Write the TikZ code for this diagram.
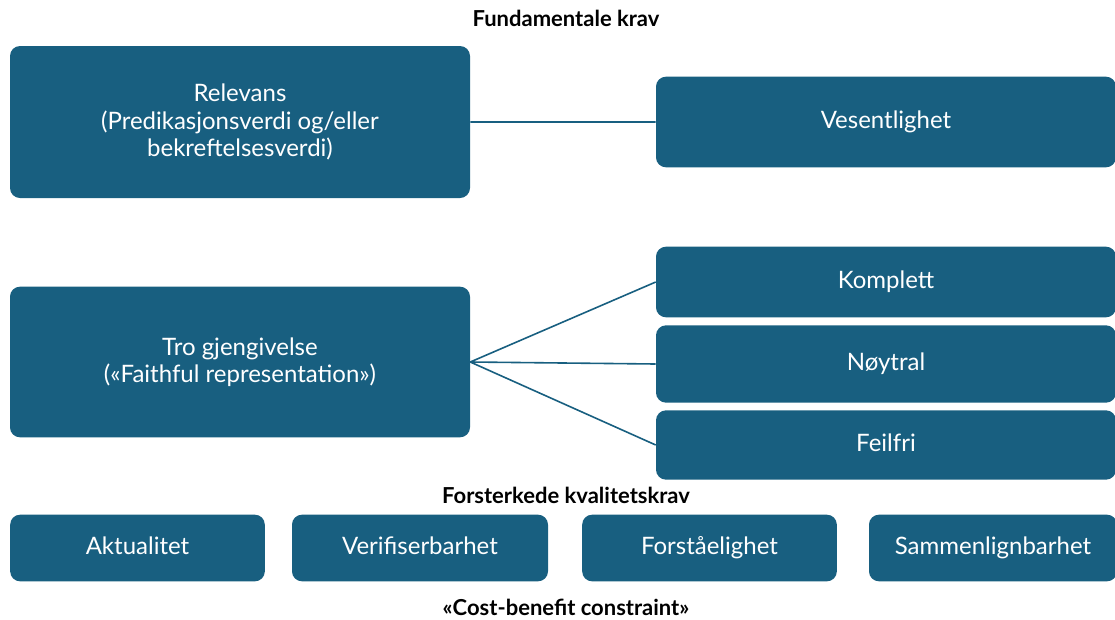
\documentclass[tikz,border=0pt]{standalone}
\usepackage{fontspec}
\setmainfont{Lato}
\usepackage{tikz}
\usetikzlibrary{positioning}

\definecolor{kravblue}{RGB}{24,95,128}

\begin{document}
\begin{tikzpicture}[x=0.75pt,y=-0.75pt,
        krav/.style={rectangle,rounded corners=7.5pt,fill=kravblue,text=white,
          font=\fontsize{18}{20.5}\selectfont,align=center,inner sep=0pt},
        kort/.style={krav,text height=13pt,text depth=4pt},
        heading/.style={font=\fontsize{16.5}{19}\selectfont\bfseries},
        link/.style={draw=kravblue,line width=1.2pt}]

  \useasboundingbox (0,0) rectangle (1115,619);

  \node[heading] (fund) at (566,18) {Fundamentale krav};

  \node[krav,minimum width=345pt,minimum height=114pt] (rel) at (240,122)
        {Relevans\\(Predikasjonsverdi og/eller\\bekreftelsesverdi)};
  \node[kort,minimum width=345pt,minimum height=68pt] (ves) at (886,122) {Vesentlighet};

  \node[krav,minimum width=345pt,minimum height=113pt] (tro) at (240,362)
        {Tro gjengivelse\\(«Faithful representation»)};
  \node[kort,minimum width=345pt,minimum height=53pt] (kom) at (886,282) {Komplett};
  \node[kort,minimum width=345pt,minimum height=58pt] (noy) at (886,364) {Nøytral};
  \node[kort,minimum width=345pt,minimum height=52pt] (feil) at (886,445) {Feilfri};

  \node[heading] (forst) at (566,495) {Forsterkede kvalitetskrav};

  \node[kort,minimum width=191pt,minimum height=50pt] (akt) at (137.5,548) {Aktualitet};
  \node[kort,minimum width=192pt,minimum height=50pt] (ver) at (420,548) {Verifiserbarhet};
  \node[kort,minimum width=191pt,minimum height=50pt] (fors) at (709.5,548) {Forståelighet};
  \node[kort,minimum width=186pt,minimum height=50pt] (sam) at (993,548) {Sammenlignbarhet};

  \node[heading] (cost) at (566,607) {«Cost-benefit constraint»};

  \path[link] (rel.east) -- (ves.west)
        (tro.east) -- (kom.west)
        (tro.east) -- (noy.west)
        (tro.east) -- (feil.west);

\end{tikzpicture}
\end{document}
